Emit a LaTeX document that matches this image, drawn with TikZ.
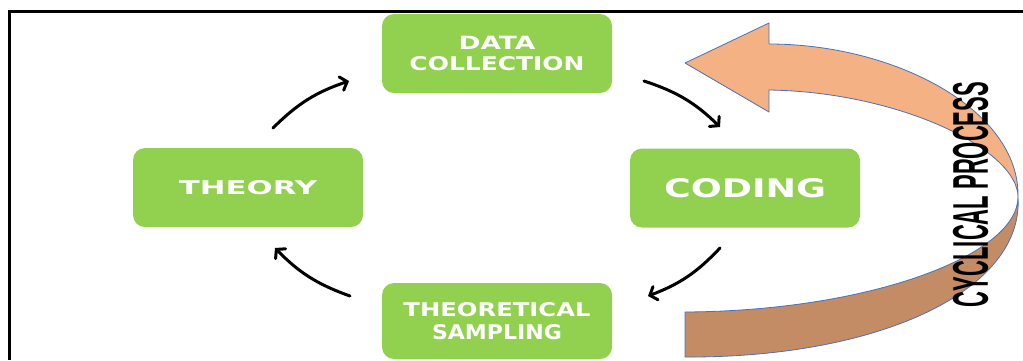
\documentclass[tikz,border=0pt]{standalone}
\usepackage{fontspec}
\usepackage{graphicx}
\usetikzlibrary{arrows.meta}
\newfontfamily\boxfont{DejaVu Sans}
\newfontfamily\cycfont{Liberation Sans}
\definecolor{boxgreen}{HTML}{92D050}
\definecolor{orangeL}{HTML}{F4B183}
\definecolor{orangeD}{HTML}{C38C64}
\definecolor{edgeblue}{HTML}{4A72B8}
\newcommand\fitt[3]{\resizebox{#1pt}{#2pt}{\boxfont\bfseries #3}}
\newcommand\twoline[3]{\vbox{\baselineskip=#3pt\relax\lineskiplimit=-100pt\hbox to 0pt{\hss#1\hss}\hbox to 0pt{\hss#2\hss}}}
\begin{document}
\begin{tikzpicture}[x=1pt,y=-1pt,
  box/.style={fill=boxgreen, text=white, rounded corners=12pt, minimum width=230pt, minimum height=79pt, inner sep=0pt},
  cyc/.style={line width=3pt, line cap=round, -{Straight Barb[length=6pt,width=14pt,line cap=round]}, bend left=13},
  band/.style={draw=edgeblue, line width=0.8pt, line join=round}]
\useasboundingbox (0,0) rectangle (1023,360);
\fill[white] (0,0) rectangle (1023,360);
\draw[line width=3pt] (9,360) -- (9,11.5) -- (1023,11.5);

\node[box] (dc) at (497,53.5) {\twoline{\fitt{77}{13.3}{DATA}}{\fitt{175}{14}{COLLECTION}}{20.5}};
\node[box] (cod) at (745,188) {\fitt{162}{19}{CODING}};
\node[box] (th) at (248,187.5) {\fitt{138}{14}{THEORY}};
\node[box, minimum height=76pt] (ts) at (497,321) {\twoline{\fitt{187}{14}{THEORETICAL}}{\fitt{130}{15}{SAMPLING}}{23.5}};

\coordinate (a1s) at (273,128); \coordinate (a1e) at (349,81);
\coordinate (a2s) at (644,81);  \coordinate (a2e) at (720,127);
\coordinate (a3s) at (720,248); \coordinate (a3e) at (648,296);
\coordinate (a4s) at (350,296); \coordinate (a4e) at (275,248);
\draw[cyc] (a1s) to (a1e);
\draw[cyc] (a2s) to (a2e);
\draw[cyc] (a3s) to (a3e);
\draw[cyc] (a4s) to (a4e);

\filldraw[band, fill=orangeL] (685,63) -- (769,23) -- (769,44)
  .. controls (895,44) and (1020,110) .. (1018,197)
  .. controls (1018,150) and (900,92) .. (769,90) -- (769,112) -- cycle;
\filldraw[band, fill=orangeD] (1018,197)
  .. controls (1018,255) and (870,311) .. (685,312) -- (685,357)
  .. controls (880,358) and (1024,290) .. (1018,197) -- cycle;

\node[rotate=90, inner sep=0pt] (cp) at (970.5,194.5) {\resizebox{225pt}{35pt}{\cycfont\bfseries CYCLICAL PROCESS}};
\end{tikzpicture}
\end{document}
